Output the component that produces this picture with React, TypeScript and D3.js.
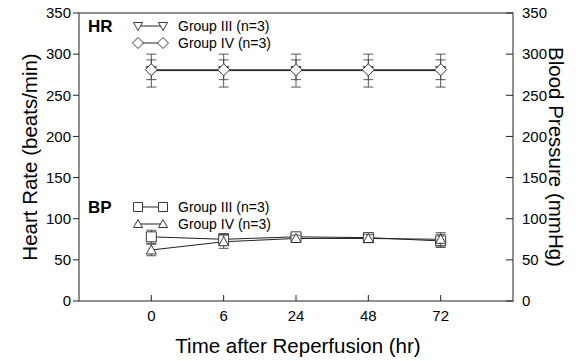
import * as d3 from "d3";

const times = ["0", "6", "24", "48", "72"];
const hrGroup3 = [280, 280, 280, 280, 280];
const hrGroup3Err = [20, 20, 20, 20, 20];
const hrGroup4 = [281, 281, 281, 281, 281];
const hrGroup4Err = [12, 12, 12, 12, 12];
const bpGroup3 = [78, 75, 78, 77, 73];
const bpGroup3Err = [8, 7, 4, 5, 8];
const bpGroup4 = [62, 72, 76, 76, 75];
const bpGroup4Err = [7, 8, 4, 5, 8];
const yTicks = [0, 50, 100, 150, 200, 250, 300, 350];

const W = 581;
const H = 361;
const left = 79;
const right = 513;
const top = 13;
const bottom = 301;
const font = "Arial, 'Liberation Sans', Helvetica, sans-serif";
const ink = "#222";

type Shape = "down" | "diamond" | "square" | "up";

// open marker, drawn as a path
function Marker({ x, y, shape, s = 4.5 }: { x: number; y: number; shape: Shape; s?: number }) {
  let d = "";
  if (shape === "down") d = `M${x - s},${y - s + 1}L${x + s},${y - s + 1}L${x},${y + s}Z`;
  if (shape === "up") d = `M${x - s},${y + s - 1}L${x + s},${y + s - 1}L${x},${y - s}Z`;
  if (shape === "diamond") d = `M${x - s - 1},${y}L${x},${y - s - 1}L${x + s + 1},${y}L${x},${y + s + 1}Z`;
  if (shape === "square") d = `M${x - s},${y - s}H${x + s}V${y + s}H${x - s}Z`;
  return <path d={d} fill="white" stroke={ink} strokeWidth={0.9} />;
}

export default function App() {
  const x = d3.scalePoint<string>().domain(times).range([left, right]).padding(1);
  const y = d3.scaleLinear().domain([0, 350]).range([bottom, top]);
  const line = d3
    .line<number>()
    .x((_, i) => x(times[i])!)
    .y((v) => y(v));

  const series = [
    { vals: hrGroup3, err: hrGroup3Err, shape: "down" as Shape },
    { vals: hrGroup4, err: hrGroup4Err, shape: "diamond" as Shape },
    { vals: bpGroup3, err: bpGroup3Err, shape: "square" as Shape },
    { vals: bpGroup4, err: bpGroup4Err, shape: "up" as Shape },
  ];

  const legends = [
    { title: "HR", y: 26, rows: [
      { label: "Group III (n=3)", shape: "down" as Shape },
      { label: "Group IV (n=3)", shape: "diamond" as Shape },
    ] },
    { title: "BP", y: 207, rows: [
      { label: "Group III (n=3)", shape: "square" as Shape },
      { label: "Group IV (n=3)", shape: "up" as Shape },
    ] },
  ];

  return (
    <svg width={W} height={H} style={{ display: "block", position: "absolute", left: 0, top: 0, background: "white" }} fontFamily={font}>
      {/* frame */}
      <rect x={left} y={top} width={right - left} height={bottom - top} fill="none" stroke={ink} strokeWidth={1} />

      {/* y ticks both sides */}
      {yTicks.map((t) => (
        <g key={t}>
          <line x1={left} x2={left - 6} y1={y(t)} y2={y(t)} stroke={ink} />
          <text x={left - 8} y={y(t)} dy="0.35em" textAnchor="end" fontSize={15} fill="#000">{t}</text>
          <line x1={right} x2={right - 7} y1={y(t)} y2={y(t)} stroke={ink} />
          <text x={right + 9} y={y(t)} dy="0.35em" textAnchor="start" fontSize={15} fill="#000">{t}</text>
        </g>
      ))}

      {/* x ticks */}
      {times.map((t) => (
        <g key={t}>
          <line x1={x(t)} x2={x(t)} y1={bottom} y2={bottom - 6} stroke={ink} />
          <text x={x(t)} y={bottom + 20} textAnchor="middle" fontSize={15} fill="#000">{t}</text>
        </g>
      ))}

      {/* axis titles */}
      <text x={298} y={353} textAnchor="middle" fontSize={20.5} fill="#000">Time after Reperfusion (hr)</text>
      <text transform={`translate(37,${(top + bottom) / 2}) rotate(-90)`} textAnchor="middle" fontSize={20.5} fill="#000">Heart Rate (beats/min)</text>
      <text transform={`translate(549,${(top + bottom) / 2}) rotate(90)`} textAnchor="middle" fontSize={20.5} fill="#000">Blood Pressure (mmHg)</text>

      {/* lines */}
      {series.map((s, i) => (
        <path key={"l" + i} d={line(s.vals)!} fill="none" stroke={ink} strokeWidth={1} />
      ))}

      {/* error bars and markers */}
      {series.map((s, i) => (
        <g key={"m" + i}>
          {s.vals.map((v, j) => {
            const cx = x(times[j])!;
            return (
              <g key={j}>
                <line x1={cx} x2={cx} y1={y(v - s.err[j])} y2={y(v + s.err[j])} stroke="#444" strokeWidth={0.9} />
                <line x1={cx - 5} x2={cx + 5} y1={y(v + s.err[j])} y2={y(v + s.err[j])} stroke="#444" strokeWidth={0.9} />
                <line x1={cx - 5} x2={cx + 5} y1={y(v - s.err[j])} y2={y(v - s.err[j])} stroke="#444" strokeWidth={0.9} />
              </g>
            );
          })}
          {s.vals.map((v, j) => (
            <Marker key={"p" + j} x={x(times[j])!} y={y(v)} shape={s.shape} s={5} />
          ))}
        </g>
      ))}

      {/* legends */}
      {legends.map((lg) => (
        <g key={lg.title}>
          <text x={88} y={lg.y} dy="0.35em" fontSize={17} fontWeight="bold" fill="#000">{lg.title}</text>
          {lg.rows.map((r, k) => {
            const ry = lg.y + k * 17;
            return (
              <g key={k}>
                <line x1={138} x2={163} y1={ry} y2={ry} stroke={ink} />
                <Marker x={138} y={ry} shape={r.shape} />
                <Marker x={163} y={ry} shape={r.shape} />
                <text x={178} y={ry} dy="0.35em" fontSize={14} fill="#000">{r.label}</text>
              </g>
            );
          })}
        </g>
      ))}
    </svg>
  );
}
